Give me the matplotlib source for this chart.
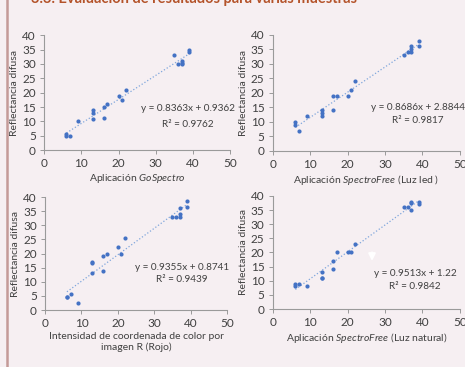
import numpy as np
import matplotlib.pyplot as plt

plt.rcParams['font.family'] = ['Lato', 'DejaVu Sans']
plt.rcParams['mathtext.fontset'] = 'custom'
plt.rcParams['mathtext.rm'] = 'Lato'
plt.rcParams['mathtext.it'] = 'Lato:italic'

# data
x_vals = [6, 6, 7, 9, 13, 13, 13, 16, 16, 17, 20, 21, 22, 35, 36, 37, 37, 37, 39, 39]

y_gospectro = [5.5, 5, 5, 10, 14, 13, 11, 15, 11.3, 16, 19, 17.3, 21, 33, 30, 31, 30, 30.5, 35, 34]
y_led = [10, 9, 7, 12, 14, 13, 12, 19, 14, 19, 19, 21, 24, 33, 34, 36, 35, 34, 38, 36]
y_rojo = [4.5, 4.5, 5.7, 2.5, 17, 16.5, 13, 19.3, 14, 20, 22.3, 20, 25.5, 33, 33, 36, 34, 33, 38.5, 36.5]
y_natural = [9, 8, 9, 8, 13, 11, 11, 17, 14, 20, 20, 20, 23, 36, 36, 38, 37.5, 35, 38, 37]

slopes = [0.8363, 0.8686, 0.9355, 0.9513]
intercepts = [0.9362, 2.8844, 0.8741, 1.22]
r2_vals = ['0.9762', '0.9817', '0.9439', '0.9842']
eq_labels = ['y = 0.8363x + 0.9362', 'y = 0.8686x + 2.8844',
             'y = 0.9355x + 0.8741', 'y = 0.9513x + 1.22']
x_labels = ['Aplicación $\\mathit{GoSpectro}$',
            'Aplicación $\\mathit{SpectroFree}$ (Luz led )',
            'Intensidad de coordenada de color por\nimagen R (Rojo)',
            'Aplicación $\\mathit{SpectroFree}$ (Luz natural)']
all_y = [y_gospectro, y_led, y_rojo, y_natural]

bg = '#f6eff2'
text_col = '#404040'

fig = plt.figure(figsize=(4.65, 3.67), dpi=100, facecolor=bg)

# slide title (cut off at top) and left border line
fig.text(0.066, 0.992, '3.3. Evaluación de resultados para varias muestras',
         color='#b4532a', fontsize=10.5, fontweight='bold', va='baseline')
fig.add_artist(plt.Line2D([0.014, 0.014], [0, 1], color='#c49a98', lw=1.8))

positions = [[0.095, 0.591, 0.400, 0.313],
             [0.587, 0.589, 0.402, 0.316],
             [0.097, 0.155, 0.391, 0.308],
             [0.587, 0.158, 0.402, 0.308]]
eq_pos = [(38.7, 14.6, 9.0), (38.8, 14.8, 10.3), (37.6, 15.2, 11.0), (38.0, 12.7, 7.8)]

for i in range(4):
    ax = fig.add_axes(positions[i])
    ax.set_facecolor(bg)
    xs = np.array(x_vals)
    ax.scatter(xs, all_y[i], s=9, color='#4472c4', zorder=3, linewidths=0)
    xl = np.array([xs.min(), xs.max()])
    ax.plot(xl, slopes[i] * xl + intercepts[i], ls=':', lw=0.9, color='#7fa6dc', zorder=2)
    ax.set_xlim(0, 50)
    ax.set_ylim(0, 40)
    ax.set_xticks(range(0, 51, 10))
    ax.set_yticks(range(0, 41, 5))
    for s in ['top', 'right']:
        ax.spines[s].set_visible(False)
    for s in ['left', 'bottom']:
        ax.spines[s].set_color('#9a9a9a')
        ax.spines[s].set_linewidth(0.8)
    ax.tick_params(length=3, width=0.7, color='#9a9a9a', labelsize=8.5,
                   labelcolor=text_col, pad=3)
    ax.set_ylabel('Reflectancia difusa', fontsize=7.5, color=text_col, labelpad=2)
    ax.set_xlabel(x_labels[i], fontsize=7.5, color=text_col, labelpad=2)
    ex, ey, ry = eq_pos[i]
    ax.text(ex, ey, eq_labels[i], fontsize=7.2, color=text_col, ha='center', va='center')
    ax.text(ex, ry, 'R² = ' + r2_vals[i], fontsize=7.2, color=text_col, ha='center', va='center')
    if i == 3:
        ax.annotate('', xy=(26.5, 16), xytext=(26.5, 21),
                    arrowprops=dict(arrowstyle='-|>', color='white', lw=1.5))

fig.savefig('out.png', dpi=100, facecolor=bg)
